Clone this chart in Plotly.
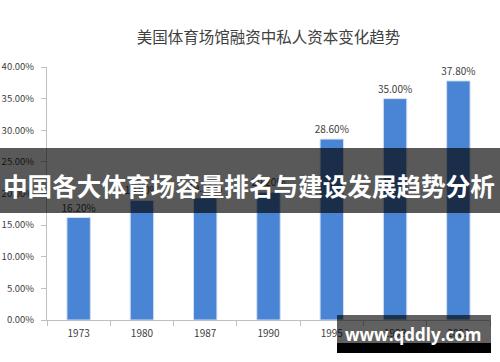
import plotly.graph_objects as go

title = "美国体育场馆融资中私人资本变化趋势"
years = ["1973", "1980", "1987", "1990", "1995", "1998", "2002"]
values = [16.20, 18.90, 19.30, 20.20, 28.60, 35.00, 37.80]
y_ticks = [0, 5, 10, 15, 20, 25, 30, 35, 40]
y_tick_labels = ["0.00%", "5.00%", "10.00%", "15.00%", "20.00%", "25.00%", "30.00%", "35.00%", "40.00%"]
banner_text = "中国各大体育场容量排名与建设发展趋势分析"
watermark_text = "www.qddly.com"

W, H = 500, 362
ML, MR, MT, MB = 47, 10, 67, 42
PW = W - ML - MR
PH = H - MT - MB

def px_x(p):
    return (p - ML) / PW

def px_y(p):
    return (H - MB - p) / PH

font_cjk = "Noto Sans CJK SC, Noto Sans, sans-serif"

fig = go.Figure()
fig.add_trace(go.Bar(
    x=years, y=values,
    marker=dict(color="#4a84d4", line=dict(color="#d3e0f2", width=1)),
    width=0.37,
    text=[f"{v:.2f}%" for v in values],
    textposition="outside",
    constraintext="none",
    cliponaxis=False,
    textfont=dict(size=10, color="#404040", family=font_cjk),
))

shapes = [
    dict(type="rect", xref="paper", yref="paper",
         x0=px_x(0), x1=px_x(W), y0=px_y(148), y1=px_y(213),
         fillcolor="rgba(0,0,0,0.65)", line=dict(width=0), layer="above"),
    dict(type="rect", xref="paper", yref="paper",
         x0=px_x(337), x1=px_x(491), y0=px_y(315), y1=px_y(343),
         fillcolor="rgba(0,0,0,0.62)", line=dict(width=0), layer="above"),
    dict(type="rect", xref="paper", yref="paper",
         x0=px_x(337), x1=px_x(491), y0=px_y(343), y1=px_y(353),
         fillcolor="#000000", line=dict(width=0), layer="above"),
]

annotations = [
    dict(text=f"<b>{banner_text}</b>", xref="paper", yref="paper",
         x=px_x(249), y=px_y(185), xanchor="center", yanchor="middle",
         showarrow=False, font=dict(size=24.6, color="white", family=font_cjk)),
    dict(text=f"<b>{watermark_text}</b>", xref="paper", yref="paper",
         x=px_x(413), y=px_y(334), xanchor="center", yanchor="middle",
         showarrow=False, font=dict(size=17, color="white", family="Open Sans, DejaVu Sans, sans-serif")),
]

fig.update_layout(
    width=W, height=H,
    margin=dict(l=ML, r=MR, t=MT, b=MB, pad=0, autoexpand=False),
    paper_bgcolor="white", plot_bgcolor="white",
    title=dict(text=title, x=0.5, xref="paper", xanchor="center", y=1 - 38 / H, yanchor="middle",
               font=dict(size=15.5, color="#404040", family=font_cjk)),
    showlegend=False,
    shapes=shapes,
    annotations=annotations,
)
fig.update_xaxes(
    type="category", showline=True, linecolor="#bfbfbf", linewidth=1,
    ticks="outside", tickson="boundaries", ticklen=5, tickcolor="#bfbfbf",
    ticklabelstandoff=4, automargin=False,
    tickfont=dict(size=10, color="#404040", family=font_cjk),
    showgrid=False,
)
fig.update_yaxes(
    range=[0, 40], tickvals=y_ticks, ticktext=y_tick_labels,
    showline=True, linecolor="#bfbfbf", linewidth=1,
    ticks="outside", ticklen=5, tickcolor="#bfbfbf",
    ticklabelstandoff=5, automargin=False,
    tickfont=dict(size=9.5, color="#404040", family=font_cjk),
    showgrid=False, zeroline=False,
)

fig.write_html("out.html", config={"displayModeBar": False},
               post_script="document.body.style.margin='0';document.body.style.overflow='hidden';")
